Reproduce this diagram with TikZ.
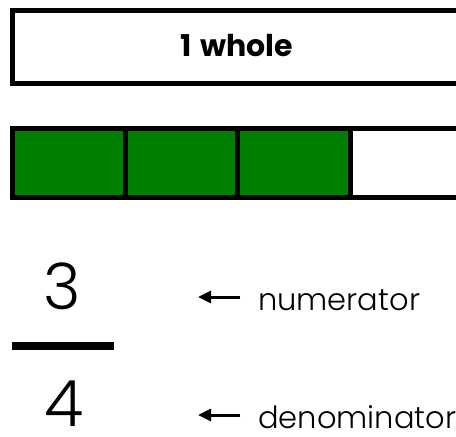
\documentclass[tikz,border=0pt]{standalone}
\usepackage{fontspec}
\setmainfont{Poppins}
\newfontfamily\lightfont{Poppins Light}
\usetikzlibrary{arrows.meta}
\definecolor{barGreen}{RGB}{0,128,0}
\begin{document}
\begin{tikzpicture}[x=1pt,y=-1pt,
  frame/.style={draw=black, line width=5pt, inner sep=0pt, fill=white},
  cell/.style={frame, fill=barGreen, minimum width=112.5pt, minimum height=69pt},
  emptycell/.style={frame, minimum width=112.5pt, minimum height=69pt},
  digit/.style={inner sep=0pt, font=\lightfont\fontsize{64}{64}\selectfont},
  pointer/.style={draw=black, line width=3pt, -{Triangle[length=13pt,width=12pt]}},
  label/.style={anchor=base west, inner sep=0pt, font=\lightfont\fontsize{30.5}{30.5}\selectfont}
]
\useasboundingbox (0,0) rectangle (456,437);
\clip (0,0) rectangle (456,437);
\fill[white] (0,0) rectangle (456,437);

% the whole
\node[frame, minimum width=449pt, minimum height=73pt,
      font=\bfseries\fontsize{30}{30}\selectfont] (whole) at (237,47) {\raisebox{3pt}{1\hspace{2pt} whole}};

% four quarters, three of them shaded
\node[cell] (q1) at (68.75,163) {};
\node[cell] (q2) at (181.25,163) {};
\node[cell] (q3) at (293.75,163) {};
\node[emptycell] (q4) at (406.25,163) {};

% the fraction 3/4
\node[digit] (num) at (62,286) {3};
\node[fill=black, inner sep=0pt, minimum width=102pt, minimum height=8pt] (fracbar) at (63,346) {};
\node[digit] (den) at (64,404) {4};

% labels with pointers
\node[label] (numlabel) at (258,310) {numerator};
\node[label] (denlabel) at (258,428) {denominator};
\coordinate (numtail) at (240,297);
\coordinate (numhead) at (198,297);
\coordinate (dentail) at (240,415);
\coordinate (denhead) at (198,415);
\draw[pointer] (numtail) -- (numhead);
\draw[pointer] (dentail) -- (denhead);
\end{tikzpicture}
\end{document}
